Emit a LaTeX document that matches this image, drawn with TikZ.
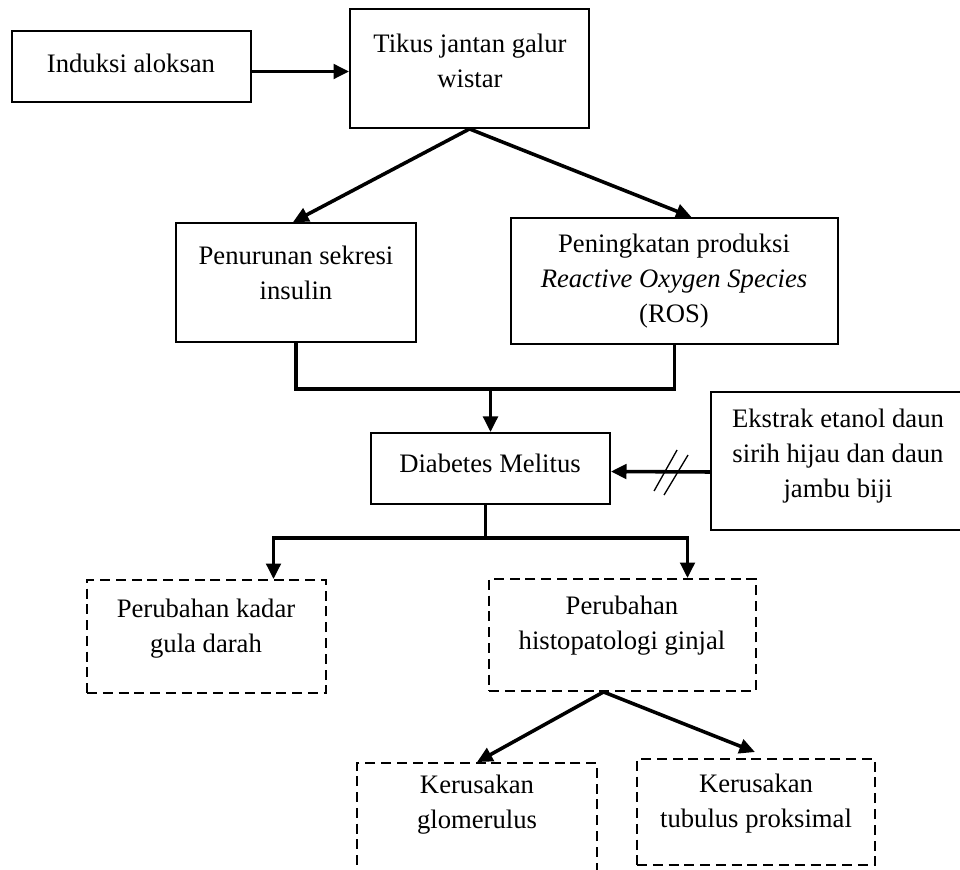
\documentclass[tikz,border=0pt]{standalone}
\usepackage{fontspec}
\setmainfont{Liberation Serif}
\usetikzlibrary{arrows.meta, positioning, fit, calc}

\begin{document}
\begin{tikzpicture}[
    x=0.45pt, y=-0.45pt,
    >={Triangle[length=7pt, width=6.5pt]},
    font=\fontsize{12}{15.75}\selectfont,
    kotak/.style={rectangle, draw=black, line width=0.85pt, inner sep=0pt},
    kotakputus/.style={kotak, dash pattern=on 4.5pt off 2.6pt},
    teks/.style={align=center, inner sep=0pt},
    panah/.style={->, line width=1.6pt},
    garis/.style={line width=1.6pt}
  ]
  \useasboundingbox (0,0) rectangle (960,870);

  % Kotak atas
  \node[kotak, fit={(12,31)(251,102)}] (aloksan) {};
  \node[teks] at (131,63) (taloksan) {Induksi aloksan};
  \node[kotak, fit={(350,9)(589,128)}] (tikus) {};
  \node[teks] at (470,61) (ttikus) {Tikus jantan galur\\ wistar};

  \node[kotak, fit={(176,223)(416,342)}] (penurunan) {};
  \node[teks] at (296,273) (tpenurunan) {Penurunan sekresi\\ insulin};
  \node[kotak, fit={(511,218)(838,344)}] (peningkatan) {};
  \node[teks] at (674,281) (tpeningkatan) {Peningkatan produksi\\ \textit{Reactive Oxygen Species}\\ (ROS)};

  % Kotak tengah
  \node[kotak, fit={(371,433)(610,504)}] (diabetes) {};
  \node[teks] at (490,463) (tdiabetes) {Diabetes Melitus};
  \node[kotak, fit={(711,392)(975,530)}] (ekstrak) {};
  \node[teks] at (838,456) (tekstrak) {Ekstrak etanol daun\\ sirih hijau dan daun\\ jambu biji};

  % Kotak putus-putus
  \node[kotakputus, fit={(87,580)(326,693)}] (kadar) {};
  \node[teks] at (206,629) (tkadar) {Perubahan kadar\\ gula darah};
  \node[kotakputus, fit={(489,579)(756,691)}] (histo) {};
  \node[teks] at (622,626) (thisto) {Perubahan\\ histopatologi ginjal};
  \node[kotakputus, fit={(357,763)(597,885)}] (glomerulus) {};
  \node[teks] at (477,805) (tglomerulus) {Kerusakan\\ glomerulus};
  \node[kotakputus, fit={(637,759)(875,865)}] (tubulus) {};
  \node[teks] at (756,804) (ttubulus) {Kerusakan\\ tubulus proksimal};

  % Panah
  \draw[panah] ($(aloksan.east)+(0,5)$) -- ($(tikus.west)+(0,3)$);
  \draw[panah] (tikus.south) -- ($(penurunan.north)+(-3,0)$);
  \draw[panah] (tikus.south) -- ($(peningkatan.north)+(17,0)$);

  \coordinate (gabung) at ($(penurunan.south)+(0,46)$);
  \draw[garis] (penurunan.south) -- (gabung) -| (peningkatan.south);
  \draw[panah] (diabetes.north |- gabung) -- (diabetes.north);

  \draw[panah] ($(ekstrak.west)+(0,11)$) -- ($(diabetes.east)+(0,3)$);
  \draw[line width=0.6pt] ($(ekstrak.west)+(-56,30)$) -- ++(23,-41);
  \draw[line width=0.6pt] ($(ekstrak.west)+(-46,34)$) -- ++(24,-40);

  \coordinate (cabang) at ($(diabetes.south)+(-5,33)$);
  \draw[garis] ($(diabetes.south)+(-5,0)$) -- (cabang);
  \draw[panah] (cabang) -| ($(kadar.north)+(67,0)$);
  \draw[panah] (cabang) -| ($(histo.north)+(65,0)$);

  \draw[panah] ($(histo.south)+(-19,0)$) -- (glomerulus.north);
  \draw[panah] ($(histo.south)+(-19,0)$) -- ($(tubulus.north)+(-1,-6)$);

\end{tikzpicture}
\end{document}
